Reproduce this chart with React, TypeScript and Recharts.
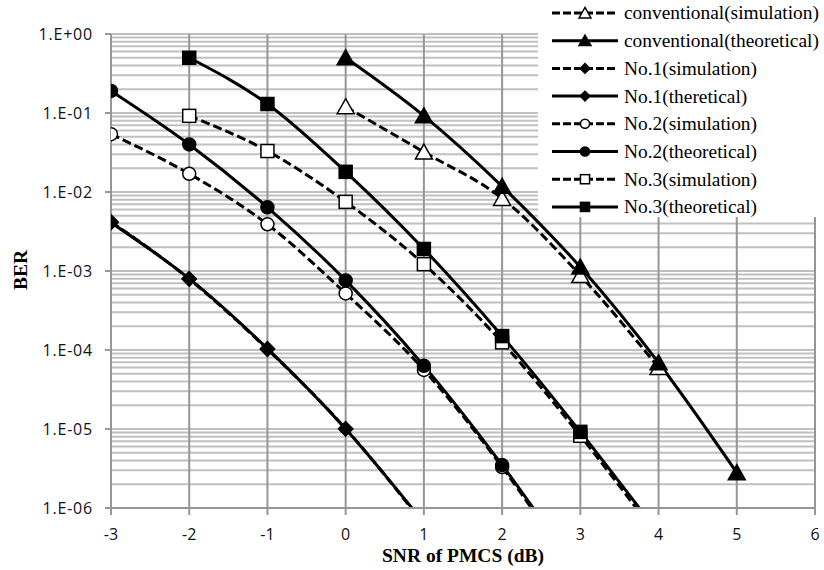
import React from 'react';
import { LineChart, Line, XAxis, YAxis, CartesianGrid, Label } from 'recharts';

// SNR of PMCS (dB)
const snrDb = [-3, -2, -1, 0, 1, 2, 3, 4, 5, 6];

// BER per series (null = no point); values under 1e-6 run off the bottom
const convSim = [null, null, null, 0.12, 0.032, 0.0083, 0.00088, 0.00006, null, null];
const convTheo = [null, null, null, 0.5, 0.092, 0.0118, 0.00112, 0.000069, 0.0000028, null];
const no1Sim = [0.0042, 0.00079, 0.000102, 0.0000101, 0.00000062, null, null, null, null, null];
const no1Theo = [0.0041, 0.0008, 0.000104, 0.00001, 0.00000065, null, null, null, null, null];
const no2Sim = [0.054, 0.017, 0.0039, 0.00052, 0.000056, 0.0000033, 0.00000012, null, null, null];
const no2Theo = [0.19, 0.04, 0.0064, 0.00076, 0.000063, 0.0000035, 0.00000014, null, null, null];
const no3Sim = [null, 0.092, 0.033, 0.0075, 0.00122, 0.000125, 0.0000082, 0.00000042, null, null];
const no3Theo = [null, 0.5, 0.13, 0.018, 0.0019, 0.00015, 0.0000092, 0.00000048, null, null];

const xTicks = [-3, -2, -1, 0, 1, 2, 3, 4, 5, 6];
const berDecades = [1e-6, 1e-5, 1e-4, 1e-3, 1e-2, 1e-1, 1];
const yTickLabels = ['1.E-06', '1.E-05', '1.E-04', '1.E-03', '1.E-02', '1.E-01', '1.E+00'];

const SERIES = [
  { key: 'convSim', name: 'conventional(simulation)', values: convSim, dashed: true, shape: 'triangle', filled: false },
  { key: 'convTheo', name: 'conventional(theoretical)', values: convTheo, dashed: false, shape: 'triangle', filled: true },
  { key: 'no1Sim', name: 'No.1(simulation)', values: no1Sim, dashed: true, shape: 'diamond', filled: true },
  { key: 'no1Theo', name: 'No.1(theretical)', values: no1Theo, dashed: false, shape: 'diamond', filled: true },
  { key: 'no2Sim', name: 'No.2(simulation)', values: no2Sim, dashed: true, shape: 'circle', filled: false },
  { key: 'no2Theo', name: 'No.2(theoretical)', values: no2Theo, dashed: false, shape: 'circle', filled: true },
  { key: 'no3Sim', name: 'No.3(simulation)', values: no3Sim, dashed: true, shape: 'square', filled: false },
  { key: 'no3Theo', name: 'No.3(theoretical)', values: no3Theo, dashed: false, shape: 'square', filled: true },
];

const chartData = snrDb.map((snr, i) => {
  const row: any = { snr };
  SERIES.forEach(s => { row[s.key] = s.values[i]; });
  return row;
});

// minor log grid: 1..9 x each decade
const gridValues = berDecades.slice(0, -1).flatMap(d => [1, 2, 3, 4, 5, 6, 7, 8, 9].map(m => d * m)).concat([1]);

const DASH = '9 4';
const TICK_FONT = '"Open Sans", sans-serif';
const SERIF = '"Liberation Serif", "Times New Roman", serif';

function Marker({ shape, filled, cx, cy, size = 1 }: any) {
  const fill = filled ? '#000' : '#fff';
  const sw = 1.5;
  if (shape === 'triangle') {
    const w = 8.5 * size, t = 8 * size, b = 7 * size;
    return <polygon points={`${cx},${cy - t} ${cx + w},${cy + b} ${cx - w},${cy + b}`} fill={fill} stroke="#000" strokeWidth={sw} />;
  }
  if (shape === 'square') {
    const h = 6.5 * size;
    return <rect x={cx - h} y={cy - h} width={h * 2} height={h * 2} fill={fill} stroke="#000" strokeWidth={sw} />;
  }
  if (shape === 'circle') {
    return <circle cx={cx} cy={cy} r={6.5 * size} fill={fill} stroke="#000" strokeWidth={sw} />;
  }
  const h = 7 * size;
  return <polygon points={`${cx},${cy - h} ${cx + h},${cy} ${cx},${cy + h} ${cx - h},${cy}`} fill={fill} stroke="#000" strokeWidth={sw} />;
}

const YTick = (props: any) => {
  const { x, y, payload } = props;
  const idx = berDecades.findIndex(d => Math.abs(d - payload.value) / d < 1e-6);
  if (idx < 0) return <g />;
  return (
    <g>
      <line x1={x + 7} x2={x + 13} y1={y} y2={y} stroke="#999" strokeWidth={2} />
      <text x={x - 5} y={y} dy="0.36em" textAnchor="end" fontFamily={TICK_FONT} fontSize={16} letterSpacing={0.8} fill="#111">
        {yTickLabels[idx]}
      </text>
    </g>
  );
};

const XTick = (props: any) => {
  const { x, y, payload } = props;
  return (
    <text x={x} y={y} dy="0.9em" textAnchor="middle" fontFamily={TICK_FONT} fontSize={16} fill="#111">
      {payload.value}
    </text>
  );
};

const LegendBox = () => (
  <div style={{ position: 'absolute', left: 538, top: 0, width: 286, height: 217, background: '#fff' }}>
    <svg width={286} height={217}>
      {SERIES.map((s, i) => {
        const cy = 13 + i * 27.7;
        return (
          <g key={s.key}>
            <line x1={14} x2={80} y1={cy} y2={cy} stroke="#000" strokeWidth={3} strokeDasharray={s.dashed ? '8 3' : undefined} />
            <Marker shape={s.shape} filled={s.filled} cx={47} cy={cy} size={0.7} />
            <text x={86} y={cy} dy="0.33em" fontFamily={SERIF} fontSize={19.4} fill="#000">{s.name}</text>
          </g>
        );
      })}
    </svg>
  </div>
);

export default function App() {
  return (
    <div style={{ position: 'relative', width: 824, height: 570, background: '#fff' }}>
      <style>{'body { margin: 0; }'}</style>
      <LineChart width={824} height={570} data={chartData} margin={{ top: 34, right: 9, bottom: 0, left: 0 }}>
        <CartesianGrid horizontal vertical={false} stroke="#c0c0c0" strokeWidth={2} horizontalValues={gridValues} />
        <CartesianGrid horizontal={false} vertical stroke="#969696" strokeWidth={2} verticalValues={xTicks} />
        <XAxis
          dataKey="snr"
          type="number"
          domain={[-3, 6]}
          ticks={xTicks}
          allowDataOverflow
          stroke="#969696"
          strokeWidth={2}
          tickSize={7}
          tickMargin={11}
          height={62}
          tick={<XTick />}
        >
          <Label
            content={() => (
              <text x={463} y={562} textAnchor="middle" fontFamily={SERIF} fontWeight="bold" fontSize={19.5} fill="#000">
                SNR of PMCS (dB)
              </text>
            )}
          />
        </XAxis>
        <YAxis
          scale="log"
          type="number"
          domain={[1e-6, 1]}
          ticks={gridValues}
          allowDataOverflow
          interval={0}
          stroke="#969696"
          strokeWidth={2}
          tickLine={false}
          tickSize={6}
          tickMargin={7}
          width={111}
          tick={<YTick />}
        >
          <Label
            content={() => (
              <text x={20} y={270} transform="rotate(-90, 20, 270)" dy="0.35em" textAnchor="middle" fontFamily={SERIF} fontWeight="bold" fontSize={19.5} fill="#000">
                BER
              </text>
            )}
          />
        </YAxis>
        {SERIES.map(s => (
          <Line
            key={s.key}
            dataKey={s.key}
            name={s.name}
            type="monotone"
            stroke="#000"
            strokeWidth={3}
            strokeDasharray={s.dashed ? DASH : undefined}
            isAnimationActive={false}
            connectNulls={false}
            dot={(p: any) => {
              if (p.cy == null || p.value == null) return <g key={p.key} />;
              return <g key={p.key}><Marker shape={s.shape} filled={s.filled} cx={p.cx} cy={p.cy} /></g>;
            }}
            activeDot={false}
          />
        ))}
      </LineChart>
      <LegendBox />
    </div>
  );
}
